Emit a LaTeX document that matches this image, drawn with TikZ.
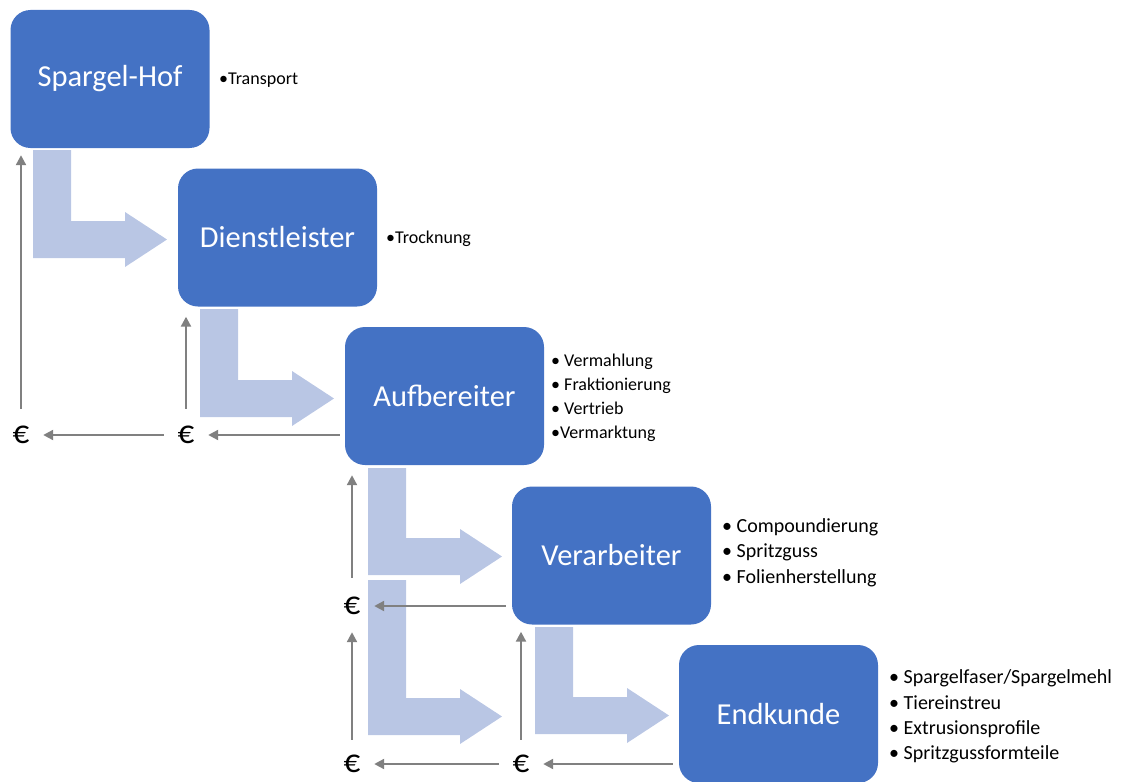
\documentclass[tikz,border=0pt]{standalone}
\usepackage{fontspec}
\setmainfont{Carlito}
\usetikzlibrary{arrows.meta}
\definecolor{boxblue}{HTML}{4472C4}
\definecolor{bentblue}{HTML}{B9C6E4}
\definecolor{flowgray}{HTML}{808080}
\tikzset{
  box/.style={fill=boxblue, draw=none, rounded corners=20pt, minimum width=199pt, minimum height=138pt, inner sep=0pt, text=white, font=\fontsize{30.5}{36}\selectfont},
  euro/.style={inner sep=0pt, minimum width=44pt, minimum height=26pt, font=\fontsize{33}{40}\selectfont},
  garrow/.style={draw=flowgray, line width=2.2pt, -{Triangle[length=10pt,width=10pt]}},
  bent/.style={fill=bentblue, draw=none},
  small/.style={anchor=west, inner sep=0pt, align=left, font=\fontsize{18}{24}\selectfont},
  large/.style={anchor=west, inner sep=0pt, align=left, font=\fontsize{20}{25.3}\selectfont}
}
\newcommand\bentarr[3]{\fill[bentblue] (#1,#2) -- ++(38,0) -- ++(0,#3) -- ++(54,0) -- ++(0,-9) -- ++(42,27.5) -- ++(-42,27.5) -- ++(0,-9) -- ++(-92,0) -- cycle;}
\begin{document}
\begin{tikzpicture}[x=1pt,y=-1pt]
\useasboundingbox (0,0) rectangle (1126,781);
% bent block arrows
\bentarr{33}{150}{71}
\bentarr{200}{309}{71}
\bentarr{368}{468}{70}
\bentarr{368}{580}{118}
\bentarr{535}{627}{70}
% boxes
\node[box] (hof) at (110,79) {Spargel-Hof};
\node[box] (dl) at (277.5,237.5) {Dienstleister};
\node[box] (auf) at (444.5,396) {Aufbereiter};
\node[box] (ver) at (611.5,555.5) {Verarbeiter};
\node[box] (end) at (778.5,714) {Endkunde};
% side texts
\node[small] (t1) at (219,80) {•Transport};
\node[small] (t2) at (386,239) {•Trocknung};
\node[small] (t3) at (551,398) {• Vermahlung\\• Fraktionierung\\• Vertrieb\\•Vermarktung};
\node[large] (t4) at (722,552.5) {• Compoundierung\\• Spritzguss\\• Folienherstellung};
\node[large] (t5) at (889,716.5) {• Spargelfaser/Spargelmehl\\• Tiereinstreu\\• Extrusionsprofile\\• Spritzgussformteile};
% euro nodes
\node[euro] (e1) at (21,435) {€};
\node[euro] (e2) at (186,435) {€};
\node[euro] (e3) at (352,606) {€};
\node[euro] (e4) at (352,764) {€};
\node[euro] (e5) at (521,764) {€};
% money flow
\draw[garrow, shorten <=13pt, shorten >=7pt] (e1.north) -- (e1.north |- hof.south);
\draw[garrow, shorten <=13pt, shorten >=10pt] (e2.north) -- (e2.north |- dl.south);
\draw[garrow] (e2.west) -- (e1.east);
\draw[garrow, shorten <=5pt] (auf.west |- e2) -- (e2.east);
\draw[garrow, shorten <=15pt, shorten >=10pt] (e3.north) -- (e3.north |- auf.south);
\draw[garrow, shorten <=6pt] (ver.west |- e3) -- (e3.east);
\draw[garrow, shorten <=11pt, shorten >=13pt] (e4.north) -- (e3.south);
\draw[garrow] (e5.west) -- (e4.east);
\draw[garrow, shorten <=11pt, shorten >=7pt] (e5.north) -- (e5.north |- ver.south);
\draw[garrow, shorten <=6pt] (end.west |- e5) -- (e5.east);
\end{tikzpicture}
\end{document}
